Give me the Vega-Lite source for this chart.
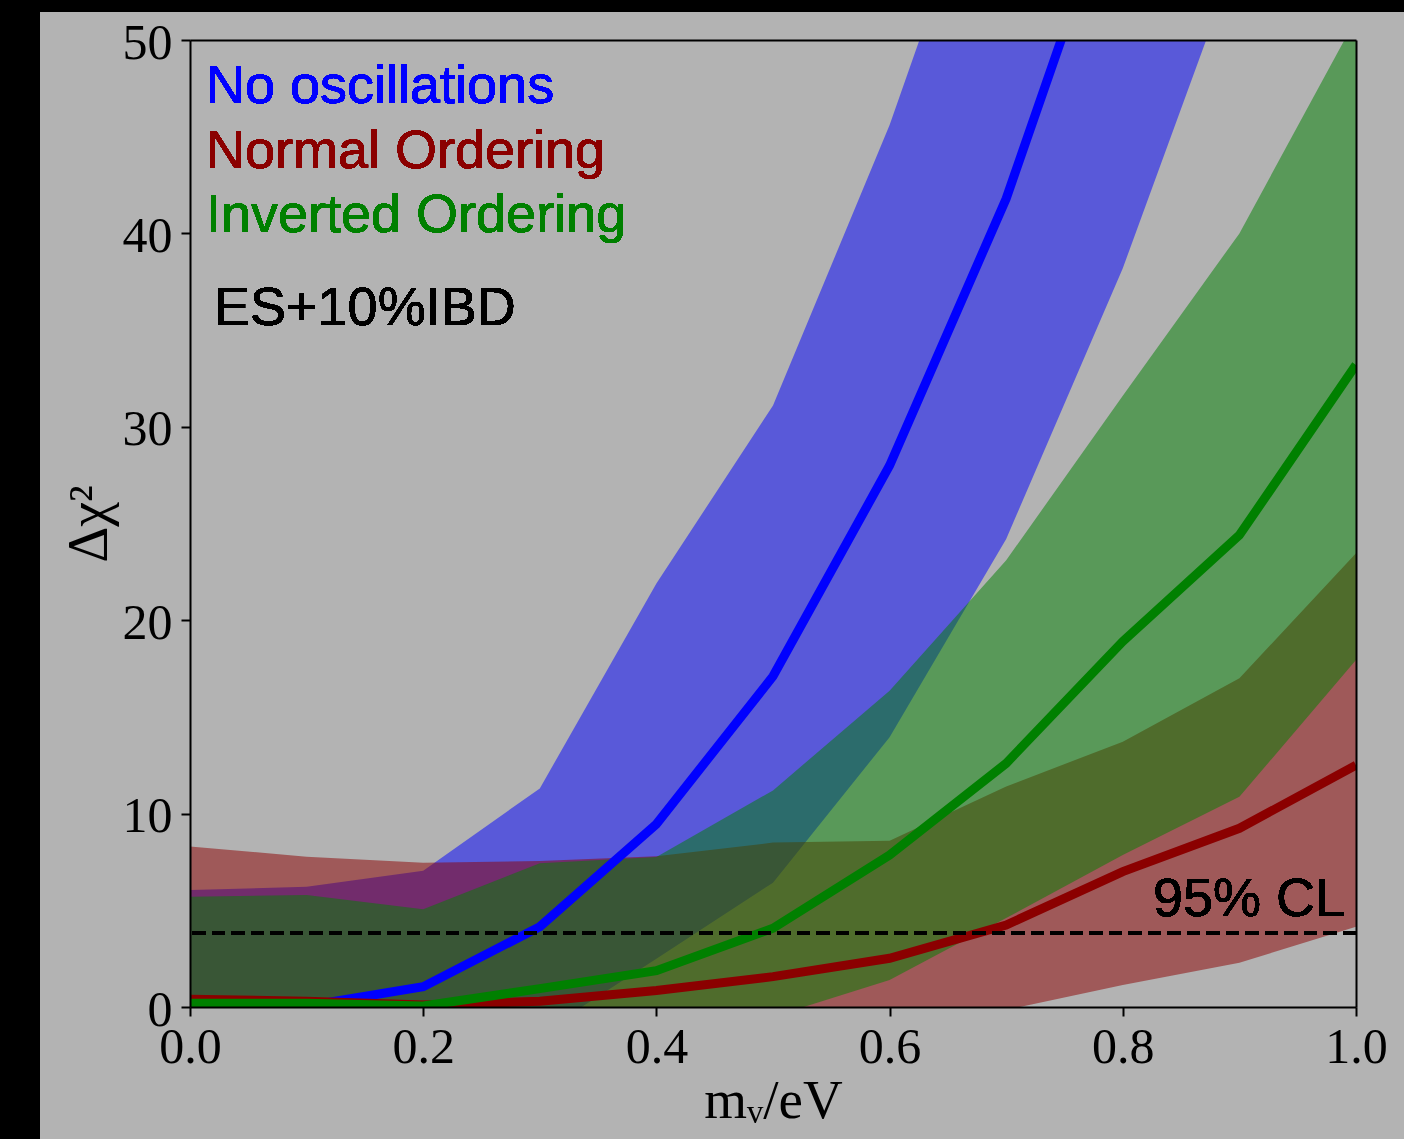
{
  "$schema": "https://vega.github.io/schema/vega-lite/v6.json",
  "background": "#b3b3b3",
  "padding": 0,
  "bounds": "flush",
  "spacing": 0,
  "config": {"view": {"stroke": null}},
  "vconcat": [
    {
      "width": 1404,
      "height": 12,
      "view": {"fill": "#000000", "stroke": null},
      "data": {"values": []},
      "mark": "point"
    },
    {
      "bounds": "flush",
      "spacing": 150,
      "hconcat": [
        {
          "width": 40,
          "height": 1127,
          "view": {"fill": "#000000", "stroke": null},
          "data": {"values": []},
          "mark": "point"
        },
        {
          "bounds": "flush",
          "spacing": 27,
          "vconcat": [
            {"width": 1166, "height": 1, "data": {"values": []}, "mark": "point"},
            {
              "width": 1166,
              "height": 967,
              "data": {
                "values": [
                  {"m": 0.0, "series": "No oscillations", "chi2": 0.0, "lo": 0.0, "hi": 6.05},
                  {"m": 0.1, "series": "No oscillations", "chi2": 0.05, "lo": 0.0, "hi": 6.22},
                  {"m": 0.2, "series": "No oscillations", "chi2": 1.05, "lo": 0.0, "hi": 7.05},
                  {"m": 0.3, "series": "No oscillations", "chi2": 4.15, "lo": -1.4, "hi": 11.3},
                  {"m": 0.4, "series": "No oscillations", "chi2": 9.46, "lo": 2.5, "hi": 21.9},
                  {"m": 0.5, "series": "No oscillations", "chi2": 17.1, "lo": 6.43, "hi": 31.1},
                  {"m": 0.6, "series": "No oscillations", "chi2": 28.0, "lo": 13.95, "hi": 45.6},
                  {"m": 0.7, "series": "No oscillations", "chi2": 41.8, "lo": 24.2, "hi": 62.8},
                  {"m": 0.8, "series": "No oscillations", "chi2": 59.2, "lo": 38.2, "hi": 80.0},
                  {"m": 0.9, "series": "No oscillations", "chi2": 80.0, "lo": 54.7, "hi": 100.0},
                  {"m": 1.0, "series": "No oscillations", "chi2": 104.0, "lo": 72.0, "hi": 125.0},
                  {"m": 0.0, "series": "Normal Ordering", "chi2": 0.4, "lo": 0.0, "hi": 8.3},
                  {"m": 0.1, "series": "Normal Ordering", "chi2": 0.3, "lo": 0.0, "hi": 7.77},
                  {"m": 0.2, "series": "Normal Ordering", "chi2": 0.1, "lo": 0.0, "hi": 7.46},
                  {"m": 0.3, "series": "Normal Ordering", "chi2": 0.3, "lo": 0.0, "hi": 7.55},
                  {"m": 0.4, "series": "Normal Ordering", "chi2": 0.85, "lo": 0.0, "hi": 7.8},
                  {"m": 0.5, "series": "Normal Ordering", "chi2": 1.57, "lo": 0.0, "hi": 8.5},
                  {"m": 0.6, "series": "Normal Ordering", "chi2": 2.52, "lo": 0.0, "hi": 8.6},
                  {"m": 0.7, "series": "Normal Ordering", "chi2": 4.24, "lo": -0.15, "hi": 11.4},
                  {"m": 0.8, "series": "Normal Ordering", "chi2": 7.0, "lo": 1.14, "hi": 13.72},
                  {"m": 0.9, "series": "Normal Ordering", "chi2": 9.24, "lo": 2.29, "hi": 17.0},
                  {"m": 1.0, "series": "Normal Ordering", "chi2": 12.5, "lo": 4.15, "hi": 23.46},
                  {"m": 0.0, "series": "Inverted Ordering", "chi2": 0.2, "lo": 0.0, "hi": 5.7},
                  {"m": 0.1, "series": "Inverted Ordering", "chi2": 0.2, "lo": 0.0, "hi": 5.79},
                  {"m": 0.2, "series": "Inverted Ordering", "chi2": 0.05, "lo": 0.0, "hi": 5.05},
                  {"m": 0.3, "series": "Inverted Ordering", "chi2": 0.95, "lo": 0.0, "hi": 7.43},
                  {"m": 0.4, "series": "Inverted Ordering", "chi2": 1.88, "lo": 0.0, "hi": 7.75},
                  {"m": 0.5, "series": "Inverted Ordering", "chi2": 4.07, "lo": -0.5, "hi": 11.2},
                  {"m": 0.6, "series": "Inverted Ordering", "chi2": 7.86, "lo": 1.4, "hi": 16.35},
                  {"m": 0.7, "series": "Inverted Ordering", "chi2": 12.6, "lo": 4.6, "hi": 23.1},
                  {"m": 0.8, "series": "Inverted Ordering", "chi2": 18.9, "lo": 7.86, "hi": 31.6},
                  {"m": 0.9, "series": "Inverted Ordering", "chi2": 24.4, "lo": 10.87, "hi": 40.0},
                  {"m": 1.0, "series": "Inverted Ordering", "chi2": 33.2, "lo": 17.94, "hi": 51.1}
                ]
              },
              "resolve": {"axis": {"x": "independent", "y": "independent"}},
              "layer": [
                {
                  "transform": [{"filter": "datum.series === 'No oscillations'"}],
                  "mark": {"type": "area", "color": "#0000ff", "opacity": 0.5, "clip": true},
                  "encoding": {
                    "x": {
                      "field": "m", "type": "quantitative",
                      "scale": {"domain": [0, 1], "nice": false, "zero": false},
                      "axis": {
                        "values": [0, 0.2, 0.4, 0.6, 0.8, 1.0], "format": ".1f",
                        "title": "mᵥ/eV", "grid": false, "zindex": 1,
                        "domain": true, "domainColor": "#000000", "domainWidth": 2,
                        "ticks": true, "tickSize": 9, "tickWidth": 2, "tickColor": "#000000",
                        "labelFont": "Liberation Serif", "labelFontSize": 50, "labelColor": "#000000",
                        "labelPadding": 6, "labelFlush": false, "labelOverlap": false,
                        "titleFont": "Liberation Serif", "titleFontSize": 55, "titleFontWeight": "normal",
                        "titleColor": "#000000", "titlePadding": 2
                      }
                    },
                    "y": {
                      "field": "lo", "type": "quantitative",
                      "scale": {"domain": [0, 50], "nice": false, "zero": false},
                      "axis": {
                        "values": [0, 10, 20, 30, 40, 50], "format": "d",
                        "title": "Δχ²", "grid": false, "zindex": 1,
                        "domain": true, "domainColor": "#000000", "domainWidth": 2,
                        "ticks": true, "tickSize": 9, "tickWidth": 2, "tickColor": "#000000",
                        "labelFont": "Liberation Serif", "labelFontSize": 50, "labelColor": "#000000",
                        "labelPadding": 9, "labelOffset": 3, "labelFlush": false, "labelOverlap": false,
                        "titleFont": "Liberation Serif", "titleFontSize": 56, "titleFontWeight": "normal",
                        "titleColor": "#000000", "titlePadding": 4
                      }
                    },
                    "y2": {"field": "hi"}
                  }
                },
                {
                  "transform": [{"filter": "datum.series === 'Normal Ordering'"}],
                  "mark": {"type": "area", "color": "#8b0000", "opacity": 0.5, "clip": true},
                  "encoding": {
                    "x": {"field": "m", "type": "quantitative", "scale": {"domain": [0, 1], "nice": false, "zero": false}, "axis": null},
                    "y": {"field": "lo", "type": "quantitative", "scale": {"domain": [0, 50], "nice": false, "zero": false}, "axis": null},
                    "y2": {"field": "hi"}
                  }
                },
                {
                  "transform": [{"filter": "datum.series === 'Inverted Ordering'"}],
                  "mark": {"type": "area", "color": "#008000", "opacity": 0.5, "clip": true},
                  "encoding": {
                    "x": {"field": "m", "type": "quantitative", "scale": {"domain": [0, 1], "nice": false, "zero": false}, "axis": null},
                    "y": {"field": "lo", "type": "quantitative", "scale": {"domain": [0, 50], "nice": false, "zero": false}, "axis": null},
                    "y2": {"field": "hi"}
                  }
                },
                {
                  "transform": [{"filter": "datum.series === 'No oscillations'"}],
                  "mark": {"type": "line", "color": "#0000ff", "strokeWidth": 9, "clip": true},
                  "encoding": {
                    "x": {"field": "m", "type": "quantitative", "scale": {"domain": [0, 1], "nice": false, "zero": false}, "axis": null},
                    "y": {"field": "chi2", "type": "quantitative", "scale": {"domain": [0, 50], "nice": false, "zero": false}, "axis": null}
                  }
                },
                {
                  "transform": [{"filter": "datum.series === 'Normal Ordering'"}],
                  "mark": {"type": "line", "color": "#8b0000", "strokeWidth": 9, "clip": true},
                  "encoding": {
                    "x": {"field": "m", "type": "quantitative", "scale": {"domain": [0, 1], "nice": false, "zero": false}, "axis": null},
                    "y": {"field": "chi2", "type": "quantitative", "scale": {"domain": [0, 50], "nice": false, "zero": false}, "axis": null}
                  }
                },
                {
                  "transform": [{"filter": "datum.series === 'Inverted Ordering'"}],
                  "mark": {"type": "line", "color": "#008000", "strokeWidth": 9, "clip": true},
                  "encoding": {
                    "x": {"field": "m", "type": "quantitative", "scale": {"domain": [0, 1], "nice": false, "zero": false}, "axis": null},
                    "y": {"field": "chi2", "type": "quantitative", "scale": {"domain": [0, 50], "nice": false, "zero": false}, "axis": null}
                  }
                },
                {
                  "mark": {"type": "rule", "color": "#000000", "strokeWidth": 3.5, "strokeDash": [13, 6.5]},
                  "encoding": {
                    "y": {"datum": 3.84, "type": "quantitative", "scale": {"domain": [0, 50], "nice": false, "zero": false}, "axis": null}
                  }
                },
                {
                  "mark": {"type": "text", "text": "No oscillations", "font": "Liberation Sans", "fontSize": 54, "color": "#0000ff", "align": "left", "baseline": "alphabetic"},
                  "encoding": {
                    "x": {"datum": 0.0137, "type": "quantitative", "scale": {"domain": [0, 1], "nice": false, "zero": false}, "axis": null},
                    "y": {"datum": 46.76, "type": "quantitative", "scale": {"domain": [0, 50], "nice": false, "zero": false}, "axis": null}
                  }
                },
                {
                  "mark": {"type": "text", "text": "Normal Ordering", "font": "Liberation Sans", "fontSize": 54, "color": "#8b0000", "align": "left", "baseline": "alphabetic"},
                  "encoding": {
                    "x": {"datum": 0.0137, "type": "quantitative", "scale": {"domain": [0, 1], "nice": false, "zero": false}, "axis": null},
                    "y": {"datum": 43.37, "type": "quantitative", "scale": {"domain": [0, 50], "nice": false, "zero": false}, "axis": null}
                  }
                },
                {
                  "mark": {"type": "text", "text": "Inverted Ordering", "font": "Liberation Sans", "fontSize": 54, "color": "#008000", "align": "left", "baseline": "alphabetic"},
                  "encoding": {
                    "x": {"datum": 0.0137, "type": "quantitative", "scale": {"domain": [0, 1], "nice": false, "zero": false}, "axis": null},
                    "y": {"datum": 40.09, "type": "quantitative", "scale": {"domain": [0, 50], "nice": false, "zero": false}, "axis": null}
                  }
                },
                {
                  "mark": {"type": "text", "text": "ES+10%IBD", "font": "Liberation Sans", "fontSize": 54, "color": "#000000", "align": "left", "baseline": "alphabetic"},
                  "encoding": {
                    "x": {"datum": 0.0206, "type": "quantitative", "scale": {"domain": [0, 1], "nice": false, "zero": false}, "axis": null},
                    "y": {"datum": 35.26, "type": "quantitative", "scale": {"domain": [0, 50], "nice": false, "zero": false}, "axis": null}
                  }
                },
                {
                  "mark": {"type": "text", "text": "95% CL", "font": "Liberation Sans", "fontSize": 54, "color": "#000000", "align": "right", "baseline": "alphabetic"},
                  "encoding": {
                    "x": {
                      "datum": 0.9906, "type": "quantitative",
                      "scale": {"domain": [0, 1], "nice": false, "zero": false},
                      "axis": {"orient": "top", "labels": false, "ticks": false, "grid": false, "title": null, "domain": true, "domainColor": "#000000", "domainWidth": 2, "zindex": 1}
                    },
                    "y": {
                      "datum": 4.73, "type": "quantitative",
                      "scale": {"domain": [0, 50], "nice": false, "zero": false},
                      "axis": {"orient": "right", "labels": false, "ticks": false, "grid": false, "title": null, "domain": true, "domainColor": "#000000", "domainWidth": 2, "zindex": 1}
                    }
                  }
                }
              ]
            }
          ]
        }
      ]
    }
  ]
}
